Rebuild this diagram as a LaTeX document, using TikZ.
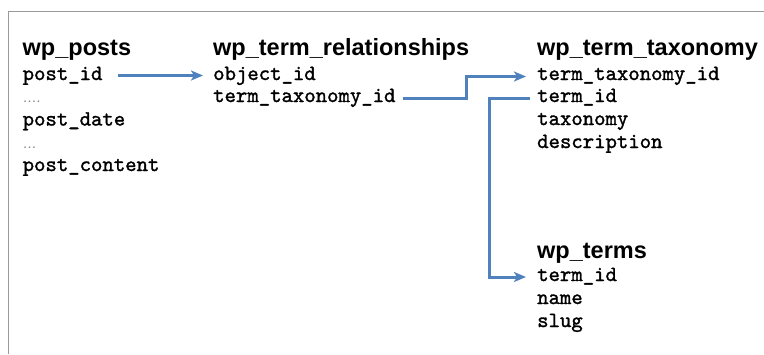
\documentclass[tikz,border=0pt]{standalone}
\usepackage{fontspec}
\setmainfont{Liberation Sans}
\newfontfamily\monof[FakeBold=1.4]{lmmono10-regular.otf}
\usetikzlibrary{arrows.meta}
\definecolor{arrowblue}{HTML}{4F81BD}
\definecolor{framegray}{HTML}{9A9A9A}
\begin{document}
\begin{tikzpicture}[x=1pt,y=-1pt,
  tabletitle/.style={anchor=base west, inner sep=0pt, font=\fontsize{23.5}{28}\selectfont\bfseries},
  field/.style={anchor=base west, inner sep=0pt, font=\monof\fontsize{21.7}{25}\selectfont},
  dotsline/.style={anchor=base west, inner sep=0pt, text=gray, font=\fontsize{14}{16}\selectfont},
  link/.style={draw=arrowblue, line width=3pt, -{Stealth[length=12pt,width=10pt,inset=3pt]}}]
\useasboundingbox (0,0) rectangle (764,354);
\draw[framegray, line width=1.5pt] (8.5,354) -- (8.5,11.5) -- (764,11.5);
% wp_posts
\node[tabletitle] (tposts) at (22.5,55) {wp\_posts};
\node[field] (pid) at (22.5,80) {post\_id};
\node[dotsline] (pdots1) at (22.5,102.7) {….};
\node[field] (pdate) at (22.5,125.5) {post\_date};
\node[dotsline] (pdots2) at (22.5,148) {…};
\node[field] (pcontent) at (22.5,171) {post\_content};
% wp_term_relationships
\node[tabletitle] (trel) at (213,55) {wp\_term\_relationships};
\node[field] (oid) at (213,80) {object\_id};
\node[field] (rttid) at (213,102) {term\_taxonomy\_id};
% wp_term_taxonomy
\node[tabletitle] (ttax) at (537,55) {wp\_term\_taxonomy};
\node[field] (tttid) at (537,80) {term\_taxonomy\_id};
\node[field] (ttermid) at (537,102) {term\_id};
\node[field] (ttaxonomy) at (537,125) {taxonomy};
\node[field] (tdesc) at (537,148) {description};
% wp_terms
\node[tabletitle] (tterms) at (537,258) {wp\_terms};
\node[field] (wtermid) at (537,281) {term\_id};
\node[field] (wname) at (537,304) {name};
\node[field] (wslug) at (537,327) {slug};
% connectors
\coordinate (j1) at (466,90);
\coordinate (j2) at (489,180);
\draw[link] ([xshift=15.5pt,yshift=4.5pt]pid.base east) -- ([xshift=-10pt,yshift=4.5pt]oid.base west);
\draw[link] ([xshift=7pt,yshift=4pt]rttid.base east) -| (j1) |- ([xshift=-11pt,yshift=3.5pt]tttid.base west);
\draw[link] ([xshift=-7pt,yshift=4pt]ttermid.base west) -| (j2) |- ([xshift=-11pt,yshift=4pt]wtermid.base west);
\end{tikzpicture}
\end{document}
